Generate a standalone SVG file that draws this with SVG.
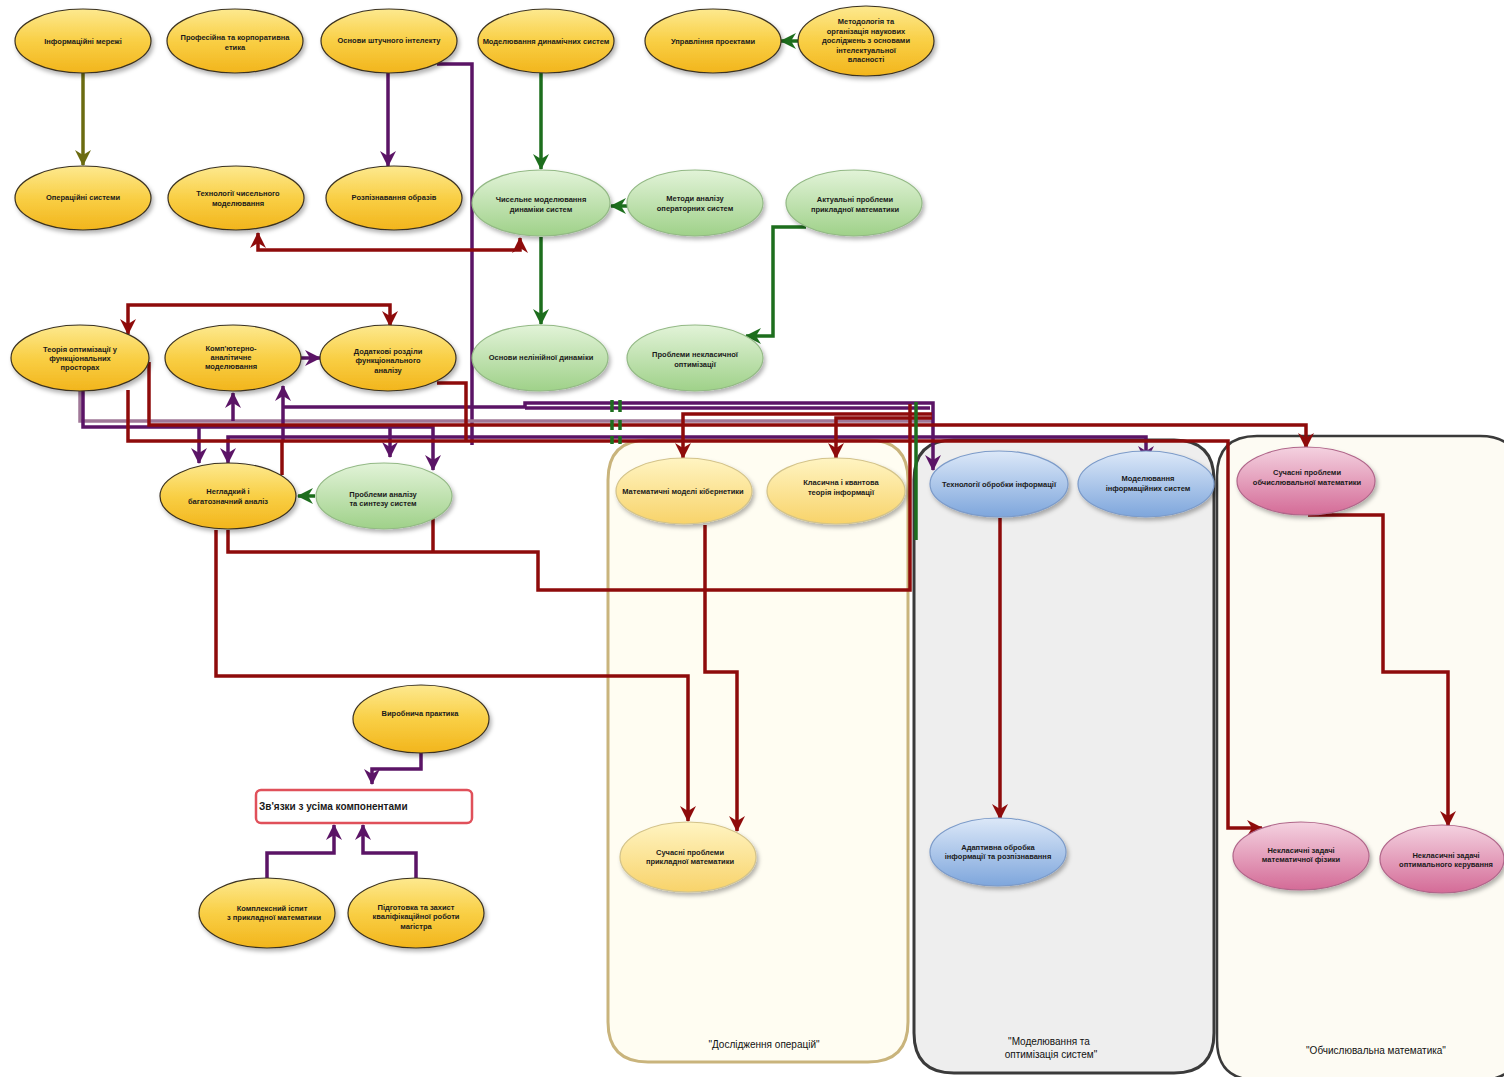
<svg xmlns="http://www.w3.org/2000/svg" width="1504" height="1077" viewBox="0 0 1504 1077">
<defs>
<linearGradient id="gY" x1="0" y1="0" x2="0" y2="1"><stop offset="0" stop-color="#fde98f"/><stop offset="0.5" stop-color="#f9cf45"/><stop offset="1" stop-color="#f2b51c"/></linearGradient>
<linearGradient id="gL" x1="0" y1="0" x2="0" y2="1"><stop offset="0" stop-color="#fff4c2"/><stop offset="1" stop-color="#f8d36a"/></linearGradient>
<linearGradient id="gG" x1="0" y1="0" x2="0" y2="1"><stop offset="0" stop-color="#e2f3d8"/><stop offset="1" stop-color="#9fd189"/></linearGradient>
<linearGradient id="gB" x1="0" y1="0" x2="0" y2="1"><stop offset="0" stop-color="#dce8f8"/><stop offset="1" stop-color="#7ea6dc"/></linearGradient>
<linearGradient id="gP" x1="0" y1="0" x2="0" y2="1"><stop offset="0" stop-color="#f4d2e0"/><stop offset="1" stop-color="#d46b97"/></linearGradient>
<filter id="sh" x="-20%" y="-20%" width="140%" height="150%"><feDropShadow dx="2" dy="3" stdDeviation="2" flood-color="#000" flood-opacity="0.3"/></filter>
<marker id="aR" viewBox="0 0 16 16" refX="15" refY="8" markerWidth="16" markerHeight="16" markerUnits="userSpaceOnUse" orient="auto-start-reverse"><path d="M0,0 L16,8 L0,16 L5,8 z" fill="#8e0b0b"/></marker>
<marker id="aP" viewBox="0 0 16 16" refX="15" refY="8" markerWidth="16" markerHeight="16" markerUnits="userSpaceOnUse" orient="auto-start-reverse"><path d="M0,0 L16,8 L0,16 L5,8 z" fill="#5b1466"/></marker>
<marker id="aG" viewBox="0 0 16 16" refX="15" refY="8" markerWidth="16" markerHeight="16" markerUnits="userSpaceOnUse" orient="auto-start-reverse"><path d="M0,0 L16,8 L0,16 L5,8 z" fill="#1d6e1d"/></marker>
<marker id="aO" viewBox="0 0 16 16" refX="15" refY="8" markerWidth="16" markerHeight="16" markerUnits="userSpaceOnUse" orient="auto-start-reverse"><path d="M0,0 L16,8 L0,16 L5,8 z" fill="#6b6b10"/></marker>
</defs>
<style>
.n ellipse{stroke-width:1.2;filter:url(#sh)}
.y ellipse{fill:url(#gY);stroke:#3b3220}
.l ellipse{fill:url(#gL);stroke:#d3c38a}
.g ellipse{fill:url(#gG);stroke:#93b985}
.b ellipse{fill:url(#gB);stroke:#7c9bc9}
.p ellipse{fill:url(#gP);stroke:#b0668a}
.n text{font-family:"Liberation Sans",Arial,sans-serif;font-size:7.5px;font-weight:bold;fill:#1a1a1a;text-anchor:middle}
.c path{fill:none;stroke-width:3.5;stroke-linejoin:miter}
.r{stroke:#8e0b0b}
.pu{stroke:#5b1466}
.gr{stroke:#1d6e1d}
.ol{stroke:#6b6b10}
.mv{stroke:#a07898}
.lbl{font-family:"Liberation Sans",Arial,sans-serif;font-size:10px;fill:#111;text-anchor:middle}
</style>
<rect width="1504" height="1077" fill="#ffffff"/>
<g id="containers">
<path id="grp-ops" d="M608 480 Q608 440 648 440 H868 Q908 440 908 480 V1022 Q908 1062 868 1062 H648 Q608 1062 608 1022 Z" fill="#fffdf2" stroke="#c9b47c" stroke-width="3"/>
<path id="grp-mod" d="M914 480 Q914 440 954 440 H1174 Q1214 440 1214 480 V1033 Q1214 1073 1174 1073 H954 Q914 1073 914 1033 Z" fill="#eeeeee" stroke="#3a3a3a" stroke-width="3"/>
<path id="grp-calc" d="M1217 476 Q1217 436 1257 436 H1480 Q1520 436 1520 476 V1040 Q1520 1080 1480 1080 H1257 Q1217 1080 1217 1040 Z" fill="#fdfbf3" stroke="#3a3a3a" stroke-width="2.5"/>
<text class="lbl" x="764" y="1048">"Дослідження операцій"</text>
<text class="lbl" x="1049" y="1045">"Моделювання та</text>
<text class="lbl" x="1051" y="1058">оптимізація систем"</text>
<text class="lbl" x="1376" y="1054">"Обчислювальна математика"</text>
</g>
<g id="connectors" class="c">
<path class="ol" d="M83 73 V165" marker-end="url(#aO)"/>
<path class="pu" d="M388 73 V166" marker-end="url(#aP)"/>
<path class="pu" d="M437 64 H472 V445"/>
<path class="gr" d="M541 73 V169" marker-end="url(#aG)"/>
<path class="gr" d="M798 41 H781" marker-end="url(#aG)"/>
<path class="gr" d="M627 206 H611" marker-end="url(#aG)"/>
<path class="gr" d="M541 237 V324" marker-end="url(#aG)"/>
<path class="gr" d="M806 227 H773 V336 H746" marker-end="url(#aG)"/>
<path class="r" d="M258 233 V250 H520 V238" marker-start="url(#aR)" marker-end="url(#aR)"/>
<path class="r" d="M128 334 V305 H390 V326" marker-start="url(#aR)" marker-end="url(#aR)"/>
<path class="pu" d="M300 358 H320" marker-end="url(#aP)"/>
<path class="mv" d="M80 390 V421 H932"/>
<path class="pu" d="M83 390 V427 H433 V470" marker-end="url(#aP)"/>
<path class="pu" d="M199 427 V463" marker-end="url(#aP)"/>
<path class="pu" d="M390 427 V457" marker-end="url(#aP)"/>
<path class="pu" d="M228 463 V437 H1146 V461" marker-start="url(#aP)" marker-end="url(#aP)"/>
<path class="pu" d="M233 421 V393" marker-end="url(#aP)"/>
<path class="pu" d="M283 440 V386" marker-end="url(#aP)"/>
<path class="pu" d="M283 407 H525 V403 H933 V470" marker-end="url(#aP)"/>
<path class="pu" d="M525 408 H930"/>
<path class="r" d="M128 390 V441 H1228 V828 H1262" marker-end="url(#aR)"/>
<path class="r" d="M149 362 V425 H1306 V448" marker-end="url(#aR)"/>
<path class="r" d="M932 414 H683 V458" marker-end="url(#aR)"/>
<path class="r" d="M932 418 H836 V458" marker-end="url(#aR)"/>
<path class="r" d="M437 383 H466 V441"/>
<path class="r" d="M282 475 V441"/>
<path class="r" d="M228 530 V552 H538 V590 H910 V404"/>
<path class="r" d="M433 515 V552"/>
<path class="r" d="M216 530 V676 H688 V821" marker-end="url(#aR)"/>
<path class="r" d="M705 525 V672 H737 V831" marker-end="url(#aR)"/>
<path class="r" d="M1000 518 V819" marker-end="url(#aR)"/>
<path class="r" d="M1308 515 H1383 V672 H1448 V826" marker-end="url(#aR)"/>
<path class="gr" d="M315 496 H298" marker-end="url(#aG)"/>
<path class="gr" d="M612 400 V412 M612 420 V430 M612 436 V444 M620 400 V412 M620 420 V430 M620 436 V444" stroke-width="3"/>
<path class="gr" d="M916 402 V540" stroke-width="3"/>
<path class="pu" d="M421 752 V769 H372 V784" marker-end="url(#aP)"/>
<path class="pu" d="M267 878 V853 H334 V825" marker-end="url(#aP)"/>
<path class="pu" d="M416 878 V853 H363 V825" marker-end="url(#aP)"/>
</g>
<g id="n-infmerezhi" class="n y"><ellipse cx="83" cy="41" rx="68" ry="32"/><text x="83" y="44">Інформаційні мережі</text></g>
<g id="n-etyka" class="n y"><ellipse cx="235" cy="41" rx="68" ry="32"/><text x="235" y="40">Професійна та корпоративна</text><text x="235" y="50">етика</text></g>
<g id="n-shi" class="n y"><ellipse cx="389" cy="41" rx="68" ry="32"/><text x="389" y="43">Основи штучного інтелекту</text></g>
<g id="n-moddyn" class="n y"><ellipse cx="546" cy="41" rx="68" ry="32"/><text x="546" y="44">Моделювання динамічних систем</text></g>
<g id="n-uprproekt" class="n y"><ellipse cx="713" cy="41" rx="68" ry="32"/><text x="713" y="44">Управління проектами</text></g>
<g id="n-metodol" class="n y"><ellipse cx="866" cy="41" rx="68" ry="35"/><text x="866" y="24">Методологія та</text><text x="866" y="33.5">організація наукових</text><text x="866" y="43">досліджень з основами</text><text x="866" y="52.5">інтелектуальної</text><text x="866" y="62">власності</text></g>
<g id="n-opsys" class="n y"><ellipse cx="83" cy="198" rx="68" ry="32"/><text x="83" y="200">Операційні системи</text></g>
<g id="n-tehchys" class="n y"><ellipse cx="236" cy="198" rx="68" ry="32"/><text x="238" y="196">Технології чисельного</text><text x="238" y="206">моделювання</text></g>
<g id="n-rozpizn" class="n y"><ellipse cx="394" cy="198" rx="68" ry="32"/><text x="394" y="200">Розпізнавання образів</text></g>
<g id="n-chysdyn" class="n g"><ellipse cx="541" cy="203" rx="69" ry="33"/><text x="541" y="202">Чисельне моделювання</text><text x="541" y="212">динаміки систем</text></g>
<g id="n-metanal" class="n g"><ellipse cx="695" cy="203" rx="68" ry="33"/><text x="695" y="201">Методи аналізу</text><text x="695" y="211">операторних систем</text></g>
<g id="n-aktual" class="n g"><ellipse cx="854" cy="203" rx="68" ry="33"/><text x="855" y="202">Актуальні проблеми</text><text x="855" y="212">прикладної математики</text></g>
<g id="n-teoropt" class="n y"><ellipse cx="80" cy="358" rx="69" ry="33"/><text x="80" y="352">Теорія оптимізації у</text><text x="80" y="361">функціональних</text><text x="80" y="370">просторах</text></g>
<g id="n-kompan" class="n y"><ellipse cx="233" cy="358" rx="68" ry="33"/><text x="231" y="351">Комп'ютерно-</text><text x="231" y="360">аналітичне</text><text x="231" y="369">моделювання</text></g>
<g id="n-dodrozd" class="n y"><ellipse cx="388" cy="358" rx="68" ry="33"/><text x="388" y="354">Додаткові розділи</text><text x="388" y="363">функціонального</text><text x="388" y="373">аналізу</text></g>
<g id="n-nelindyn" class="n g"><ellipse cx="540" cy="358" rx="68" ry="33"/><text x="541" y="360">Основи нелінійної динаміки</text></g>
<g id="n-neklopt" class="n g"><ellipse cx="695" cy="358" rx="68" ry="33"/><text x="695" y="357">Проблеми некласичної</text><text x="695" y="367">оптимізації</text></g>
<g id="n-neglad" class="n y"><ellipse cx="228" cy="496" rx="68" ry="33"/><text x="228" y="494">Негладкий і</text><text x="228" y="504">багатозначний аналіз</text></g>
<g id="n-problsynt" class="n g"><ellipse cx="384" cy="496" rx="68" ry="33"/><text x="383" y="497">Проблеми аналізу</text><text x="383" y="506">та синтезу систем</text></g>
<g id="n-matkib" class="n l"><ellipse cx="684" cy="491" rx="68" ry="33"/><text x="683" y="494">Математичні моделі кібернетики</text></g>
<g id="n-klaskvant" class="n l"><ellipse cx="836" cy="491" rx="69" ry="33"/><text x="841" y="485">Класична і квантова</text><text x="841" y="495">теорія інформації</text></g>
<g id="n-tehobr" class="n b"><ellipse cx="999" cy="484" rx="69" ry="33"/><text x="999" y="487">Технології обробки інформації</text></g>
<g id="n-modinf" class="n b"><ellipse cx="1146" cy="484" rx="68" ry="33"/><text x="1148" y="481">Моделювання</text><text x="1148" y="491">інформаційних систем</text></g>
<g id="n-obchmat" class="n p"><ellipse cx="1306" cy="481" rx="69" ry="34"/><text x="1307" y="475">Сучасні проблеми</text><text x="1307" y="485">обчислювальної математики</text></g>
<g id="n-vyrobn" class="n y"><ellipse cx="421" cy="719" rx="68" ry="34"/><text x="420" y="716">Виробнича практика</text></g>
<g id="n-zvyazky"><rect x="256" y="790" width="216" height="33" rx="5" fill="#ffffff" stroke="#e0505a" stroke-width="2.5"/><text x="259" y="810" style="font-family:'Liberation Sans',Arial,sans-serif;font-size:10px;font-weight:bold;fill:#1a1a1a">Зв'язки з усіма компонентами</text></g>
<g id="n-kompleks" class="n y"><ellipse cx="267" cy="913" rx="68" ry="35"/><text x="272" y="911">Комплексний іспит</text><text x="274" y="920">з прикладної математики</text></g>
<g id="n-pidgot" class="n y"><ellipse cx="416" cy="913" rx="68" ry="35"/><text x="416" y="910">Підготовка та захист</text><text x="416" y="919">кваліфікаційної роботи</text><text x="416" y="929">магістра</text></g>
<g id="n-suchprykl" class="n l"><ellipse cx="688" cy="857" rx="68" ry="35"/><text x="690" y="855">Сучасні проблеми</text><text x="690" y="864">прикладної математики</text></g>
<g id="n-adapt" class="n b"><ellipse cx="998" cy="852" rx="68" ry="34"/><text x="998" y="850">Адаптивна обробка</text><text x="998" y="859">інформації та розпізнавання</text></g>
<g id="n-neklfiz" class="n p"><ellipse cx="1301" cy="856" rx="68" ry="34"/><text x="1301" y="853">Некласичні задачі</text><text x="1301" y="862">математичної фізики</text></g>
<g id="n-neklker" class="n p"><ellipse cx="1442" cy="859" rx="62" ry="34"/><text x="1446" y="858">Некласичні задачі</text><text x="1446" y="867">оптимального керування</text></g>
</svg>
